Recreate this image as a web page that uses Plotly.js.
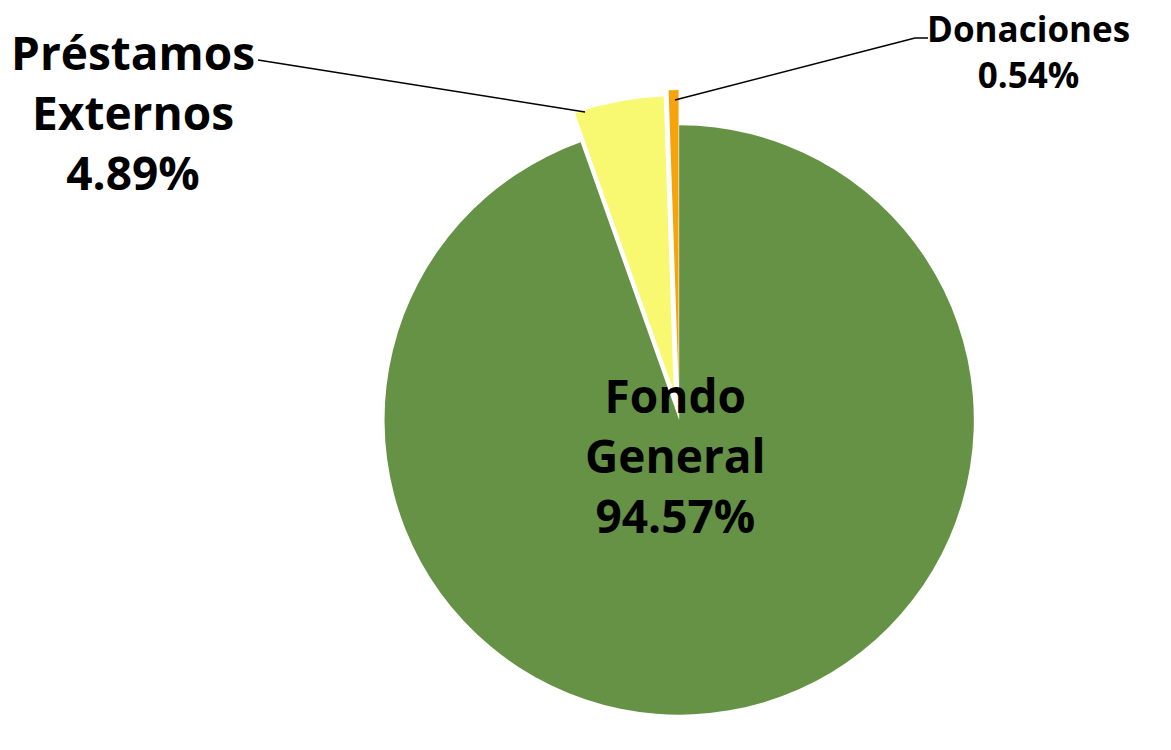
<!DOCTYPE html>
<html>
<head>
<meta charset="utf-8">
<script src="https://cdn.plot.ly/plotly-3.0.1.min.js"></script>
<style>html,body{margin:0;padding:0;background:#fff;}#chart{width:1171px;height:750px;}</style>
</head>
<body>
<div id="chart"></div>
<script>
const categories = ["Fondo General", "Préstamos Externos", "Donaciones"];
const values = [94.57, 4.89, 0.54];
const labelLines = [["Fondo", "General"], ["Préstamos", "Externos"], ["Donaciones"]];
const colors = ["#659245", "#F9F871", "#F7A30C"];
const pulls = [0, 0.1, 0.12];

function labelText(i) {
  return labelLines[i].join("<br>") + "<br>" + values[i].toFixed(2) + "%";
}

const trace = {
  type: "pie",
  labels: categories,
  values: values,
  sort: false,
  direction: "clockwise",
  rotation: 0,
  pull: pulls,
  marker: { colors: colors, line: { color: "#ffffff", width: 0 } },
  textinfo: "none",
  hoverinfo: "label+percent",
  showlegend: false,
  domain: { x: [0.298, 0.862], y: [0.0, 0.88] }
};

const font = { family: "Open Sans, Liberation Sans, sans-serif", color: "#000000", weight: 700 };

function ann(i, px, py, size) {
  return { text: "<b>" + labelText(i) + "</b>", xref: "paper", yref: "paper",
    x: px / 1171, y: 1 - py / 750, xanchor: "center", yanchor: "middle",
    showarrow: false, font: Object.assign({}, font, { size: size }), align: "center" };
}

const layout = {
  width: 1171,
  height: 750,
  margin: { l: 0, r: 0, t: 0, b: 0 },
  paper_bgcolor: "#ffffff",
  plot_bgcolor: "#ffffff",
  showlegend: false,
  annotations: [
    ann(0, 675, 455, 46),
    ann(1, 133, 112, 46),
    ann(2, 1028, 51, 35)
  ],
  shapes: [
    { type: "line", xref: "paper", yref: "paper", x0: 258/1171, y0: 1 - 60/750, x1: 585/1171, y1: 1 - 112/750,
      line: { color: "#000000", width: 1.5 } },
    { type: "line", xref: "paper", yref: "paper", x0: 928/1171, y0: 1 - 38/750, x1: 915/1171, y1: 1 - 38/750,
      line: { color: "#000000", width: 1.5 } },
    { type: "line", xref: "paper", yref: "paper", x0: 915/1171, y0: 1 - 38/750, x1: 675/1171, y1: 1 - 100/750,
      line: { color: "#000000", width: 1.5 } }
  ]
};

Plotly.newPlot("chart", [trace], layout, { displayModeBar: false, staticPlot: true });
</script>
</body>
</html>
